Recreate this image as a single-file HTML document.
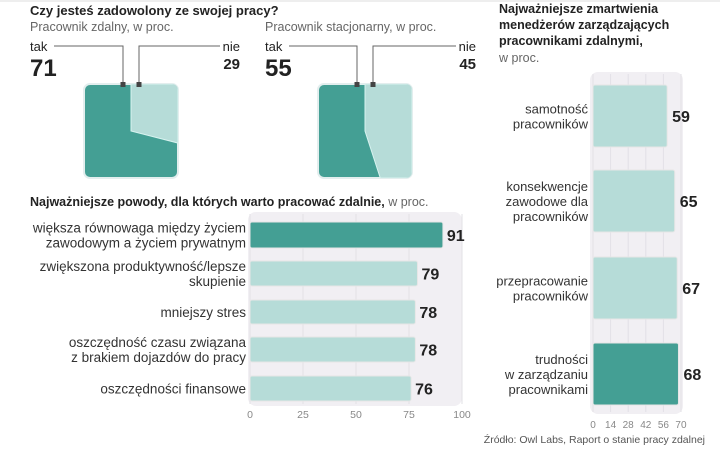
<!DOCTYPE html>
<html><head><meta charset="utf-8">
<style>
body{margin:0;background:#fff;font-family:"Liberation Sans",sans-serif;}
svg text{font-family:"Liberation Sans","Noto Sans CJK SC",sans-serif;}
</style></head>
<body>
<svg id="c" width="720" height="449" viewBox="0 0 720 449" xmlns="http://www.w3.org/2000/svg">
<line x1="0" y1="1" x2="720" y2="1" stroke="#ddd"/>
<text x="30" y="15" font-size="13" font-weight="bold" fill="#222">Czy jesteś zadowolony ze swojej pracy?</text>
<text x="30" y="31" font-size="12.5" fill="#666">Pracownik zdalny, w proc.</text>
<text x="265" y="31" font-size="12.5" fill="#666">Pracownik stacjonarny, w proc.</text>
<g id="pies"></g>
<text x="30" y="206" font-size="12.5" font-weight="bold" fill="#222">Najważniejsze powody, dla których warto pracować zdalnie, <tspan font-weight="normal" fill="#666">w proc.</tspan></text>
<g id="bars1"></g>
<text x="499" y="13" font-size="12.5" font-weight="bold" fill="#222">Najważniejsze zmartwienia</text>
<text x="499" y="29" font-size="12.5" font-weight="bold" fill="#222">menedżerów zarządzających</text>
<text x="499" y="45" font-size="12.5" font-weight="bold" fill="#222">pracownikami zdalnymi,</text>
<text x="499" y="62" font-size="12.5" fill="#666">w proc.</text>
<g id="bars2"></g>
<text x="705" y="443" font-size="10.5" fill="#555" text-anchor="end">Źródło: Owl Labs, Raport o stanie pracy zdalnej</text>
</svg>
<script>
const NS="http://www.w3.org/2000/svg";
function mk(p,tag,a,txt){const e=document.createElementNS(NS,tag);for(const k in a)e.setAttribute(k,a[k]);if(txt!==undefined)e.textContent=txt;p.appendChild(e);return e;}
const DARK="#449f94",LIGHT="#b6dcd8";

// pies
const pieLabels=["Pracownik zdalny","Pracownik stacjonarny"];
const pieYes=[71,55];
const pieNo=[29,45];
const pies=document.getElementById('pies');
const pieX=[84,318],pieLblX=[30,265],nieX=[240,476];
pieYes.forEach((v,i)=>{
  const x0=pieX[i],y0=84,s=94,cx=x0+s/2,cy=y0+s/2;
  const g=mk(pies,'g',{});
  
  
  const r=mk(g,'rect',{x:x0,y:y0,width:s,height:s,rx:6,fill:DARK,stroke:"#e3eeee","stroke-width":2});
  
  
  const ang=pieNo[i]/100*2*Math.PI;
  const dx=Math.sin(ang),dy=-Math.cos(ang);
  const t=Math.min(Math.abs((s/2)/(dx||1e-9)),Math.abs((s/2)/(dy||1e-9)));
  const ex=cx+dx*t,ey=cy+dy*t;
  let pts=[[cx,y0]];
  const corners=[[x0+s,y0,0.125],[x0+s,y0+s,0.375],[x0,y0+s,0.625],[x0,y0,0.875]];
  corners.forEach(c=>{if(pieNo[i]/100>c[2])pts.push([c[0],c[1]]);});
  pts.push([ex,ey]);pts.push([cx,cy]);
  const clip='pc'+i;
  const cp=mk(g,'clipPath',{id:clip});mk(cp,'rect',{x:x0,y:y0,width:s,height:s,rx:6});
  const pl=mk(g,'polygon',{points:pts.map(p=>p.join(',')).join(' '),fill:LIGHT,stroke:"#d8f3f0","stroke-width":1,"clip-path":"url(#"+clip+")"});
  
  
  mk(g,'polyline',{points:`${pieLblX[i]+24},46 ${cx-8},46 ${cx-8},85`,fill:"none",stroke:"#666","stroke-width":1});
  mk(g,'polyline',{points:`${nieX[i]-20},46 ${cx+8},46 ${cx+8},85`,fill:"none",stroke:"#666","stroke-width":1});
  mk(g,'rect',{x:cx-10.5,y:82,width:5,height:5,fill:"#444"});
  mk(g,'rect',{x:cx+5.5,y:82,width:5,height:5,fill:"#444"});
  const t1=mk(g,'text',{x:pieLblX[i],y:51,"font-size":13,fill:"#222"},'tak');
  
  
  const t2=mk(g,'text',{x:pieLblX[i],y:76,"font-size":24,"font-weight":"bold",fill:"#222"},String(v));
  
  
  const t3=mk(g,'text',{x:nieX[i],y:51,"font-size":13,fill:"#222","text-anchor":"end"},'nie');
  
  
  const t4=mk(g,'text',{x:nieX[i],y:69,"font-size":15,"font-weight":"bold",fill:"#222","text-anchor":"end"},String(pieNo[i]));
  
  
});

// reasons chart
const reasonLabels=[["większa równowaga między życiem","zawodowym a życiem prywatnym"],["zwiększona produktywność/lepsze","skupienie"],["mniejszy stres"],["oszczędność czasu związana","z brakiem dojazdów do pracy"],["oszczędności finansowe"]];
const reasonValues=[91,79,78,78,76];
const reasonTicks=[0,25,50,75,100];
const b1=document.getElementById('bars1');
const x1=v=>250+v*2.12;
const rTop=[222,261,300,337,376],rH=[26,25,24,25,25];
const bg1=mk(b1,'rect',{x:248,y:212,width:x1(100)-248,height:194,rx:8,fill:"#f1eff3"});


reasonTicks.forEach(t=>{
  mk(b1,'line',{x1:x1(t),x2:x1(t),y1:214,y2:404,stroke:"#e2e0e6","stroke-width":1});
  const tt=mk(b1,'text',{x:x1(t),y:418,"font-size":10.5,fill:"#888","text-anchor":"middle"},String(t));
  
  
});
reasonValues.forEach((v,i)=>{
  const y=rTop[i],h=rH[i];
  const r=mk(b1,'rect',{x:x1(0),y:y,width:x1(v)-x1(0),height:h,rx:2,fill:i===0?DARK:LIGHT,stroke:"#e6e6e6","stroke-width":1});
  
  
  const vt=mk(b1,'text',{x:x1(v)+4,y:y+h/2+6,"font-size":16,"font-weight":"bold",fill:"#222"},String(v));
  
  
  const L=reasonLabels[i];
  L.forEach((ln,j)=>{
    const lt=mk(b1,'text',{x:246,y:y+h/2+5+(j-(L.length-1)/2)*15,"font-size":13.5,fill:"#333","text-anchor":"end"},ln);
    
    
  });
});

// managers chart
const worryLabels=[["samotność","pracowników"],["konsekwencje","zawodowe dla","pracowników"],["przepracowanie","pracowników"],["trudności","w zarządzaniu","pracownikami"]];
const worryValues=[59,65,67,68];
const worryTicks=[0,14,28,42,56,70];
const b2=document.getElementById('bars2');
const x2=v=>593+v*1.257;
const wTop=[85,170,257,343],wH=62;
const bg2=mk(b2,'rect',{x:590,y:72,width:x2(70)-588,height:342,rx:8,fill:"#f1eff3"});


worryTicks.forEach(t=>{
  mk(b2,'line',{x1:x2(t),x2:x2(t),y1:74,y2:412,stroke:"#e2e0e6","stroke-width":1});
  const tt=mk(b2,'text',{x:x2(t),y:428,"font-size":10,fill:"#888","text-anchor":"middle"},String(t));
  
  
});
worryValues.forEach((v,i)=>{
  const y=wTop[i];
  const r=mk(b2,'rect',{x:x2(0),y:y,width:x2(v)-x2(0),height:wH,rx:2,fill:i===3?DARK:LIGHT,stroke:"#e6e6e6","stroke-width":1});
  
  
  const vt=mk(b2,'text',{x:x2(v)+5,y:y+wH/2+6,"font-size":16,"font-weight":"bold",fill:"#222"},String(v));
  
  
  const L=worryLabels[i];
  L.forEach((ln,j)=>{
    const lt=mk(b2,'text',{x:588,y:y+wH/2+5+(j-(L.length-1)/2)*15,"font-size":13,fill:"#333","text-anchor":"end"},ln);
    
    
  });
});
</script>
</body></html>
